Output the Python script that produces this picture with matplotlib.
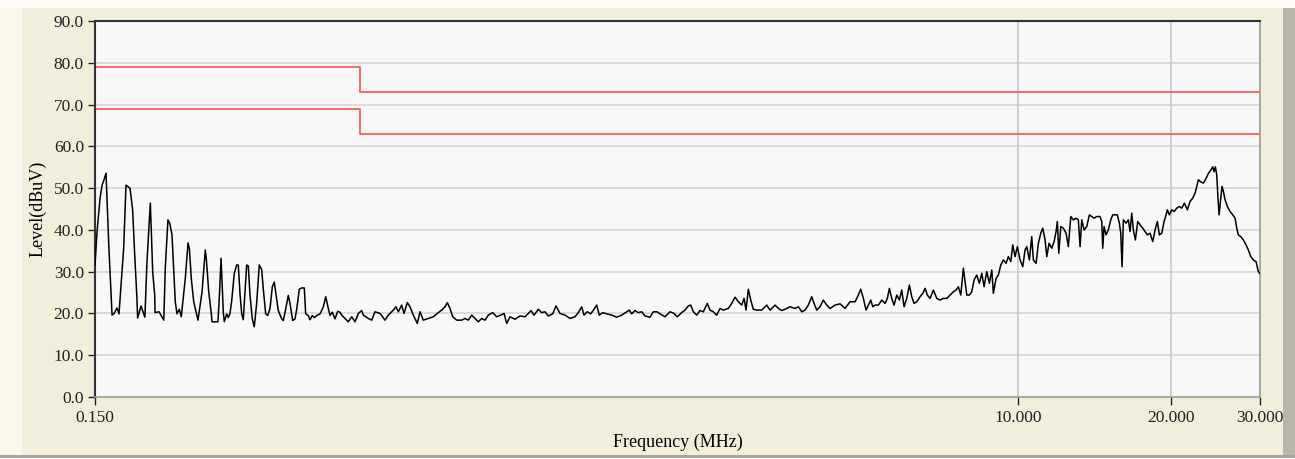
import matplotlib
matplotlib.use("Agg")
import matplotlib.pyplot as plt
from matplotlib.patches import Rectangle
from matplotlib.ticker import FixedLocator, NullLocator

# limit lines (MHz, dBuV)
limit_freq = [0.15, 0.5, 0.5, 30.0]
limit_qp = [79.0, 79.0, 73.0, 73.0]
limit_av = [69.0, 69.0, 63.0, 63.0]

freq = [
    0.1500, 0.1514, 0.1535, 0.1549, 0.1563, 0.1577, 0.1597, 0.1613, 0.1621, 0.1636,
    0.1658, 0.1673, 0.1709, 0.1727, 0.1759, 0.1780, 0.1797, 0.1815, 0.1821, 0.1849,
    0.1882, 0.1900, 0.1929, 0.1935, 0.1950, 0.1968, 0.1971, 0.2007, 0.2051, 0.2065,
    0.2090, 0.2107, 0.2129, 0.2145, 0.2161, 0.2178, 0.2201, 0.2221, 0.2262, 0.2290,
    0.2304, 0.2325, 0.2350, 0.2396, 0.2441, 0.2477, 0.2489, 0.2516, 0.2546, 0.2554,
    0.2624, 0.2643, 0.2661, 0.2689, 0.2701, 0.2730, 0.2750, 0.2771, 0.2793, 0.2826,
    0.2857, 0.2878, 0.2900, 0.2923, 0.2944, 0.2967, 0.2990, 0.3012, 0.3035, 0.3067,
    0.3095, 0.3129, 0.3166, 0.3201, 0.3225, 0.3260, 0.3290, 0.3325, 0.3360, 0.3390,
    0.3417, 0.3452, 0.3506, 0.3532, 0.3570, 0.3613, 0.3641, 0.3686, 0.3725, 0.3754,
    0.3799, 0.3840, 0.3886, 0.3910, 0.3957, 0.3988, 0.4030, 0.4066, 0.4112, 0.4174,
    0.4206, 0.4237, 0.4284, 0.4323, 0.4368, 0.4414, 0.4468, 0.4523, 0.4571, 0.4606,
    0.4676, 0.4747, 0.4821, 0.4894, 0.4968, 0.5045, 0.5082, 0.5198, 0.5279, 0.5360,
    0.5483, 0.5609, 0.5694, 0.5825, 0.5897, 0.5959, 0.6051, 0.6115, 0.6208, 0.6284,
    0.6380, 0.6497, 0.6577, 0.6676, 0.6830, 0.6987, 0.7115, 0.7259, 0.7369, 0.7446,
    0.7539, 0.7631, 0.7772, 0.7950, 0.8071, 0.8193, 0.8320, 0.8446, 0.8574, 0.8707,
    0.8839, 0.8973, 0.9154, 0.9322, 0.9493, 0.9637, 0.9756, 0.9904, 1.0131, 1.0364,
    1.0602, 1.0762, 1.0896, 1.1045, 1.1264, 1.1439, 1.1612, 1.1787, 1.2025, 1.2207,
    1.2432, 1.2718, 1.3010, 1.3309, 1.3510, 1.3720, 1.3865, 1.4075, 1.4295, 1.4511,
    1.4691, 1.4866, 1.5096, 1.5374, 1.5726, 1.6090, 1.6458, 1.6838, 1.7039, 1.7224,
    1.7486, 1.7750, 1.8026, 1.8299, 1.8720, 1.9004, 1.9326, 1.9591, 2.0042, 2.0503,
    2.0880, 2.1195, 2.1623, 2.1951, 2.2283, 2.2528, 2.2796, 2.3151, 2.3500, 2.3856,
    2.4292, 2.4593, 2.4966, 2.5356, 2.5739, 2.6129, 2.6728, 2.7144, 2.7560, 2.7976,
    2.8412, 2.8712, 2.8972, 2.9275, 2.9598, 2.9950, 3.0415, 3.1113, 3.1836, 3.2317,
    3.3060, 3.3559, 3.4082, 3.4600, 3.5396, 3.6210, 3.6757, 3.7329, 3.7890, 3.8462,
    3.9061, 3.9474, 3.9959, 4.0562, 4.1177, 4.1824, 4.2455, 4.3430, 4.4429, 4.5450,
    4.6495, 4.7570, 4.8288, 4.8821, 4.9401, 5.0007, 5.0532, 5.1089, 5.1552, 5.2100,
    5.2887, 5.3710, 5.4520, 5.5092, 5.5600, 5.6205, 5.6799, 5.7505, 5.8190, 5.8823,
    5.9445, 6.0176, 6.0892, 6.1555, 6.2206, 6.2977, 6.3927, 6.4715, 6.5400, 6.6087,
    6.6904, 6.7918, 6.8974, 7.0014, 7.1075, 7.2189, 7.3277, 7.4388, 7.5302, 7.6092,
    7.6931, 7.7846, 7.8450, 7.9062, 8.0003, 8.0874, 8.1729, 8.2740, 8.3726, 8.4637,
    8.5532, 8.6590, 8.7621, 8.8575, 8.9228, 9.0330, 9.1278, 9.2285, 9.3382, 9.4533,
    9.5525, 9.6579, 9.7454, 9.8480, 9.9514, 10.075, 10.199, 10.306, 10.386, 10.510,
    10.624, 10.703, 10.835, 10.949, 11.070, 11.170, 11.288, 11.376, 11.496, 11.637,
    11.760, 11.867, 11.937, 12.014, 12.124, 12.268, 12.418, 12.549, 12.687, 12.838,
    12.996, 13.132, 13.235, 13.337, 13.478, 13.645, 13.807, 13.957, 14.105, 14.280,
    14.495, 14.607, 14.673, 14.761, 14.896, 15.052, 15.218, 15.356, 15.518, 15.681,
    15.825, 15.926, 16.021, 16.115, 16.314, 16.485, 16.614, 16.742, 16.865, 17.019,
    17.207, 17.387, 17.601, 17.787, 17.974, 18.196, 18.420, 18.615, 18.811, 18.984,
    19.190, 19.393, 19.570, 19.686, 19.867, 20.083, 20.295, 20.546, 20.791, 21.017,
    21.268, 21.560, 21.827, 22.096, 22.329, 22.503, 22.666, 22.916, 23.189, 23.475,
    23.721, 23.983, 24.200, 24.345, 24.489, 24.646, 24.790, 24.905, 25.098, 25.247,
    25.397, 25.593, 25.862, 26.182, 26.504, 26.784, 26.993, 27.188, 27.488, 27.815,
    28.158, 28.453, 28.767, 29.109, 29.468, 29.777, 30.000,
]
level = [
    31.5, 39.6, 47.6, 50.7, 52.0, 53.6, 36.4, 25.2, 19.6, 20.0,
    21.3, 19.9, 35.7, 50.7, 50.0, 44.8, 34.0, 23.7, 18.9, 21.8,
    19.1, 32.4, 46.4, 42.0, 30.0, 24.4, 20.2, 20.4, 18.4, 30.9,
    42.4, 41.6, 38.8, 30.9, 22.8, 19.9, 21.0, 19.2, 28.5, 36.9,
    35.5, 28.2, 22.8, 18.4, 25.2, 35.2, 33.0, 25.2, 19.9, 18.0,
    18.0, 25.0, 33.2, 20.1, 18.0, 19.9, 19.0, 20.0, 23.0, 29.6,
    31.6, 31.6, 24.9, 19.9, 18.5, 24.9, 31.6, 31.4, 24.5, 18.7,
    16.8, 22.4, 31.6, 30.5, 25.8, 19.9, 19.5, 21.2, 26.4, 27.5,
    24.5, 20.7, 18.7, 18.3, 21.0, 24.3, 22.4, 18.3, 18.7, 21.0,
    25.8, 26.1, 26.1, 19.9, 19.5, 18.5, 19.5, 19.0, 19.5, 19.9,
    20.7, 21.6, 24.0, 21.8, 19.5, 20.3, 18.7, 20.5, 20.3, 19.6,
    18.8, 18.0, 19.2, 18.0, 20.0, 20.7, 19.6, 18.8, 18.4, 20.4,
    20.0, 18.4, 19.6, 20.8, 21.6, 20.4, 22.0, 20.0, 22.6, 21.6,
    19.6, 17.6, 20.4, 18.4, 18.8, 19.2, 20.0, 20.8, 21.6, 22.6,
    21.2, 19.2, 18.4, 18.4, 18.8, 18.4, 19.6, 18.8, 18.0, 18.8,
    18.4, 19.6, 20.2, 19.2, 19.6, 20.0, 17.6, 19.2, 18.6, 19.4,
    19.2, 20.0, 20.7, 19.6, 21.0, 20.2, 20.4, 19.4, 19.9, 21.8,
    20.0, 19.6, 18.8, 19.2, 20.2, 21.6, 19.6, 20.4, 19.9, 21.0,
    22.0, 19.6, 20.2, 19.9, 19.6, 19.1, 19.6, 20.4, 20.8, 19.9,
    20.7, 20.2, 20.4, 19.4, 19.1, 20.4, 20.4, 19.9, 19.2, 20.4,
    20.0, 19.2, 20.2, 20.8, 21.8, 22.0, 20.4, 19.6, 20.7, 20.4,
    22.4, 20.8, 20.4, 19.6, 21.2, 20.8, 21.2, 22.4, 23.9, 22.8,
    22.0, 23.6, 20.8, 25.8, 23.2, 21.0, 20.8, 20.8, 22.0, 20.8,
    22.0, 21.2, 20.7, 21.0, 21.6, 21.2, 21.6, 20.4, 20.8, 22.0,
    24.0, 22.4, 20.8, 21.6, 23.2, 22.0, 21.2, 22.0, 22.3, 21.2,
    22.8, 22.8, 24.4, 25.8, 23.6, 20.8, 22.0, 23.2, 21.6, 22.0,
    22.0, 23.2, 22.4, 23.6, 26.0, 23.6, 22.0, 24.4, 23.2, 25.6,
    21.6, 23.6, 26.8, 24.0, 22.4, 22.8, 24.0, 24.8, 26.0, 24.4,
    23.6, 25.6, 23.6, 23.2, 23.6, 23.6, 24.4, 25.2, 25.6, 26.4,
    24.4, 30.8, 27.6, 24.4, 24.4, 25.2, 28.0, 29.2, 27.2, 29.6,
    26.4, 30.0, 27.2, 30.4, 24.8, 28.4, 29.2, 31.6, 32.8, 32.0,
    33.6, 32.4, 36.4, 33.6, 36.0, 32.8, 31.2, 35.2, 36.0, 32.8,
    38.4, 32.8, 32.0, 36.8, 39.2, 40.4, 37.6, 33.6, 36.8, 35.6,
    37.2, 39.6, 42.0, 34.4, 40.8, 40.4, 39.2, 36.0, 43.2, 42.4,
    42.8, 42.4, 36.0, 42.4, 40.0, 40.8, 43.6, 43.2, 42.8, 43.2,
    43.2, 42.0, 35.6, 40.8, 38.8, 40.0, 42.4, 43.6, 43.6, 43.6,
    41.6, 39.2, 31.2, 42.4, 41.6, 42.4, 39.6, 44.0, 40.0, 37.6,
    42.0, 41.2, 40.4, 39.6, 38.8, 39.2, 37.2, 40.0, 42.0, 38.8,
    39.2, 42.0, 43.6, 44.8, 43.6, 44.8, 44.4, 45.2, 45.6, 45.2,
    46.4, 44.8, 46.8, 47.6, 48.8, 50.4, 52.0, 51.5, 51.2, 52.3,
    53.5, 54.3, 55.1, 53.9, 55.1, 53.1, 47.2, 43.6, 47.6, 50.4,
    49.2, 47.2, 45.6, 44.4, 43.6, 42.8, 40.4, 38.8, 38.4, 37.6,
    36.4, 35.2, 33.6, 32.8, 32.4, 30.0, 29.5,
]

x_ticks = [0.15, 10.0, 20.0, 30.0]
x_labels = ["0.150", "10.000", "20.000", "30.000"]
y_ticks = [0, 10, 20, 30, 40, 50, 60, 70, 80, 90]

plt.rcParams["font.family"] = ["Liberation Serif", "DejaVu Serif"]

fig = plt.figure(figsize=(12.95, 4.59), dpi=100, facecolor="#f1eedc")

# window chrome: light strip left, grey bar right, grey rule at the bottom
fig.patches.append(Rectangle((0, 0), 22 / 1295, 1, transform=fig.transFigure,
                             facecolor="#faf8ec", edgecolor="none", zorder=0))
fig.patches.append(Rectangle((1283 / 1295, 0), 12 / 1295, 1, transform=fig.transFigure,
                             facecolor="#b8b6aa", edgecolor="none", zorder=0))
fig.patches.append(Rectangle((0, 0), 1, 4 / 459, transform=fig.transFigure,
                             facecolor="#a9a79c", edgecolor="none", zorder=0))
fig.patches.append(Rectangle((0, 0), 1, 1.5 / 459, transform=fig.transFigure,
                             facecolor="white", edgecolor="none", zorder=1))
fig.patches.append(Rectangle((0, 451 / 459), 1, 8 / 459, transform=fig.transFigure,
                             facecolor="#fdfcf6", edgecolor="none", zorder=0))

ax = fig.add_axes([95 / 1295, 1 - 397 / 459, 1165 / 1295, 376 / 459])
ax.set_facecolor("#f8f8f8")

ax.set_xscale("log")
ax.set_xlim(0.15, 30)
ax.set_ylim(0, 90)

ax.xaxis.set_major_locator(FixedLocator(x_ticks))
ax.xaxis.set_minor_locator(NullLocator())
ax.set_xticklabels(x_labels)
ax.set_yticks(y_ticks)
ax.set_yticklabels([f"{v:.1f}" for v in y_ticks])

for v in y_ticks[1:-1]:
    ax.axhline(v, color="#d6d6d6", lw=1.2, zorder=1)
for v in x_ticks[1:3]:
    ax.axvline(v, color="#c8c8c8", lw=1.2, zorder=1)

ax.plot(limit_freq, limit_qp, color="#ff5a5a", lw=1.3, zorder=2)
ax.plot(limit_freq, limit_av, color="#ff5a5a", lw=1.3, zorder=2)
ax.plot(freq, level, color="black", lw=1.1, zorder=3)

ax.tick_params(axis="y", direction="out", length=5, width=1, colors="#222222",
               labelsize=12.5, pad=3)
ax.tick_params(axis="x", direction="out", length=6, width=1, colors="#222222",
               labelsize=12.5, pad=3)

for side in ["left", "top"]:
    ax.spines[side].set_color("#333333")
    ax.spines[side].set_linewidth(1.5)
for side in ["right", "bottom"]:
    ax.spines[side].set_color("#9a9a9a")
    ax.spines[side].set_linewidth(1.2)

ax.set_ylabel("Level(dBuV)", fontsize=13, labelpad=5)
ax.set_xlabel("Frequency (MHz)", fontsize=13, labelpad=6)

fig.savefig("out.png", dpi=100, facecolor=fig.get_facecolor())
